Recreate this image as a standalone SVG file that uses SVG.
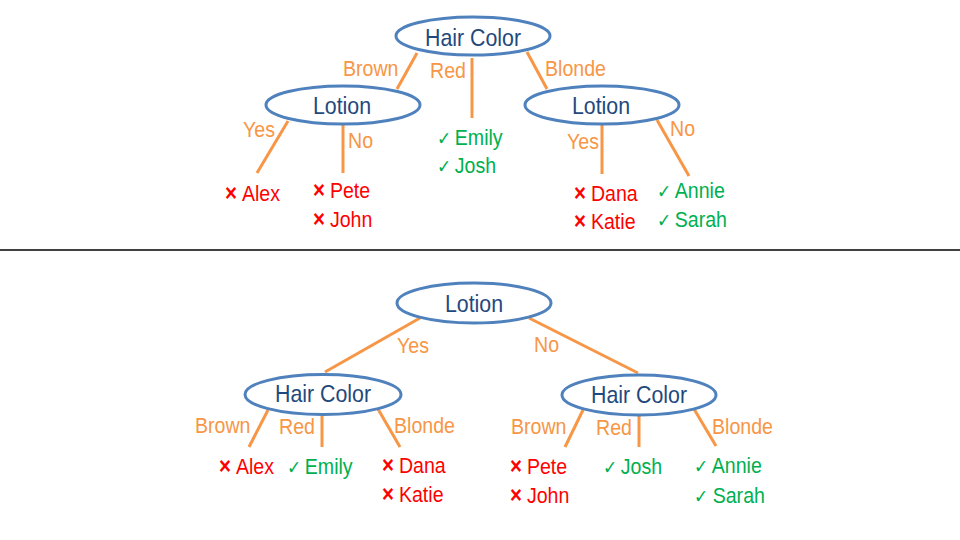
<svg xmlns="http://www.w3.org/2000/svg" width="960" height="540" viewBox="0 0 960 540">
<style>
.node ellipse{fill:#fff;stroke:#4F81BD;stroke-width:3}
.node text{font-family:"Liberation Sans",Arial,sans-serif;font-size:24px;fill:#1F497D;text-anchor:middle}
.edge{stroke:#F79646;stroke-width:3;fill:none}
.lbl{font-family:"Liberation Sans",Arial,sans-serif;font-size:22px;fill:#F79646}
.leaf{font-family:"Liberation Sans",Arial,sans-serif;font-size:22px}
.bad{fill:#FF0000}
.good{fill:#00B050}
.x{font-weight:bold;font-size:23px}
.ck{font-family:"DejaVu Sans",sans-serif;font-size:19px}
</style>
<rect width="960" height="540" fill="#fff"/>
<line x1="0" y1="250" x2="960" y2="250" stroke="#000" stroke-width="1.3"/>

<g id="connectors">
  <line class="edge" x1="417" y1="53" x2="397" y2="89"/>
  <line class="edge" x1="472" y1="58" x2="472" y2="118"/>
  <line class="edge" x1="527" y1="52" x2="547" y2="89"/>
  <line class="edge" x1="288" y1="121" x2="257" y2="173"/>
  <line class="edge" x1="343" y1="125" x2="343" y2="173"/>
  <line class="edge" x1="602" y1="125" x2="602" y2="174"/>
  <line class="edge" x1="657" y1="120" x2="689" y2="176"/>
  <line class="edge" x1="420" y1="318" x2="325" y2="372"/>
  <line class="edge" x1="529" y1="318" x2="638" y2="373"/>
  <line class="edge" x1="268" y1="410" x2="249" y2="447"/>
  <line class="edge" x1="322" y1="416" x2="322" y2="447"/>
  <line class="edge" x1="378" y1="409" x2="400" y2="447"/>
  <line class="edge" x1="583" y1="410" x2="565" y2="447"/>
  <line class="edge" x1="639" y1="415" x2="639" y2="447"/>
  <line class="edge" x1="694" y1="409" x2="716" y2="446"/>
  <text class="lbl" transform="translate(343,76) scale(0.89,1)">Brown</text>
  <text class="lbl" transform="translate(430,78) scale(0.89,1)">Red</text>
  <text class="lbl" transform="translate(545,76) scale(0.89,1)">Blonde</text>
  <text class="lbl" transform="translate(243,137) scale(0.89,1)">Yes</text>
  <text class="lbl" transform="translate(348,148) scale(0.89,1)">No</text>
  <text class="lbl" transform="translate(567,149) scale(0.89,1)">Yes</text>
  <text class="lbl" transform="translate(670,136) scale(0.89,1)">No</text>
  <text class="lbl" transform="translate(397,353) scale(0.89,1)">Yes</text>
  <text class="lbl" transform="translate(534,352) scale(0.89,1)">No</text>
  <text class="lbl" transform="translate(195,433) scale(0.89,1)">Brown</text>
  <text class="lbl" transform="translate(279,434) scale(0.89,1)">Red</text>
  <text class="lbl" transform="translate(394,433) scale(0.89,1)">Blonde</text>
  <text class="lbl" transform="translate(511,434) scale(0.89,1)">Brown</text>
  <text class="lbl" transform="translate(596,435) scale(0.89,1)">Red</text>
  <text class="lbl" transform="translate(712,434) scale(0.89,1)">Blonde</text>
</g>

<g id="top-hair-color" class="node">
  <ellipse cx="473" cy="36" rx="77" ry="19"/>
  <text transform="translate(473,46) scale(0.89,1)">Hair Color</text>
</g>
<g id="top-lotion-left" class="node">
  <ellipse cx="343" cy="105" rx="77" ry="19"/>
  <text transform="translate(342,114) scale(0.89,1)">Lotion</text>
</g>
<g id="top-lotion-right" class="node">
  <ellipse cx="602" cy="105" rx="77" ry="19"/>
  <text transform="translate(601,114) scale(0.89,1)">Lotion</text>
</g>
<g id="bottom-lotion" class="node">
  <ellipse cx="474" cy="303" rx="77" ry="20"/>
  <text transform="translate(474,312) scale(0.89,1)">Lotion</text>
</g>
<g id="bottom-hair-color-left" class="node">
  <ellipse cx="323" cy="394.5" rx="78" ry="20"/>
  <text transform="translate(323,402) scale(0.89,1)">Hair Color</text>
</g>
<g id="bottom-hair-color-right" class="node">
  <ellipse cx="639" cy="395" rx="77" ry="20"/>
  <text transform="translate(639,403) scale(0.89,1)">Hair Color</text>
</g>

<g id="leaf-top-alex"><text class="leaf bad" transform="translate(225,201) scale(0.89,1)"><tspan class="x">×</tspan><tspan x="19">Alex</tspan></text></g>
<g id="leaf-top-pete-john"><text class="leaf bad" transform="translate(313,198) scale(0.89,1)"><tspan class="x">×</tspan><tspan x="19">Pete</tspan><tspan class="x" x="0" y="29">×</tspan><tspan x="19">John</tspan></text></g>
<g id="leaf-top-emily-josh"><text class="leaf good" transform="translate(437,145) scale(0.89,1)"><tspan class="ck">✓</tspan><tspan x="20">Emily</tspan><tspan class="ck" x="0" y="28">✓</tspan><tspan x="20">Josh</tspan></text></g>
<g id="leaf-top-dana-katie"><text class="leaf bad" transform="translate(574,201) scale(0.89,1)"><tspan class="x">×</tspan><tspan x="19">Dana</tspan><tspan class="x" x="0" y="28">×</tspan><tspan x="19">Katie</tspan></text></g>
<g id="leaf-top-annie-sarah"><text class="leaf good" transform="translate(657,198) scale(0.89,1)"><tspan class="ck">✓</tspan><tspan x="20">Annie</tspan><tspan class="ck" x="0" y="29">✓</tspan><tspan x="20">Sarah</tspan></text></g>

<g id="leaf-bottom-alex"><text class="leaf bad" transform="translate(219,474) scale(0.89,1)"><tspan class="x">×</tspan><tspan x="19">Alex</tspan></text></g>
<g id="leaf-bottom-emily"><text class="leaf good" transform="translate(287,474) scale(0.89,1)"><tspan class="ck">✓</tspan><tspan x="20">Emily</tspan></text></g>
<g id="leaf-bottom-dana-katie"><text class="leaf bad" transform="translate(382,473) scale(0.89,1)"><tspan class="x">×</tspan><tspan x="19">Dana</tspan><tspan class="x" x="0" y="29">×</tspan><tspan x="19">Katie</tspan></text></g>
<g id="leaf-bottom-pete-john"><text class="leaf bad" transform="translate(510,474) scale(0.89,1)"><tspan class="x">×</tspan><tspan x="19">Pete</tspan><tspan class="x" x="0" y="29">×</tspan><tspan x="19">John</tspan></text></g>
<g id="leaf-bottom-josh"><text class="leaf good" transform="translate(603,474) scale(0.89,1)"><tspan class="ck">✓</tspan><tspan x="20">Josh</tspan></text></g>
<g id="leaf-bottom-annie-sarah"><text class="leaf good" transform="translate(694,473) scale(0.89,1)"><tspan class="ck">✓</tspan><tspan x="20">Annie</tspan><tspan class="ck" x="0" y="30">✓</tspan><tspan x="21">Sarah</tspan></text></g>
</svg>
